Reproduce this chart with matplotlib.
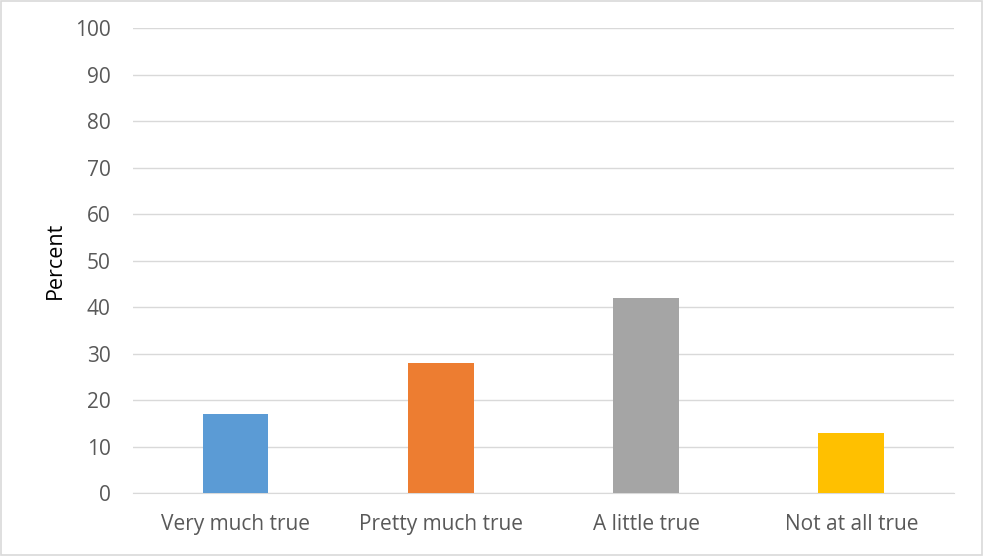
import matplotlib
matplotlib.use("Agg")
import matplotlib.pyplot as plt
from matplotlib.patches import Rectangle

categories = ["Very much true", "Pretty much true", "A little true", "Not at all true"]
values = [17, 28, 42, 13]
colors = ["#5b9bd5", "#ed7d31", "#a5a5a5", "#ffc000"]
yticks = list(range(0, 101, 10))

plt.rcParams['font.family'] = ['Open Sans', 'DejaVu Sans']

fig = plt.figure(figsize=(9.84, 5.56), dpi=100)
ax = fig.add_axes([0.135, 0.1133, 0.8345, 0.8363])

ax.bar(range(len(categories)), values, width=0.32, color=colors, zorder=3)

ax.set_xlim(-0.5, len(categories) - 0.5)
ax.set_ylim(0, 100)
ax.set_yticks(yticks)
ax.set_xticks(range(len(categories)))
ax.set_xticklabels(categories)
ax.grid(axis='y', color='#d9d9d9', linewidth=1, zorder=0)
ax.tick_params(axis='both', length=0, labelsize=15, colors='#595959')
ax.tick_params(axis='y', pad=16)
ax.tick_params(axis='x', pad=15)
for side in ['top', 'right', 'left']:
    ax.spines[side].set_visible(False)
ax.spines['bottom'].set_color('#d9d9d9')
ax.set_ylabel('Percent', fontsize=15.5, color='black')
ax.yaxis.set_label_coords(-0.082, 0.5)

# bordure du graphique
fig.patches.append(Rectangle((0.001, 0.002), 0.997, 0.996, transform=fig.transFigure,
                             fill=False, edgecolor='#d9d9d9', linewidth=1.2))

fig.savefig('out.png', dpi=100)
